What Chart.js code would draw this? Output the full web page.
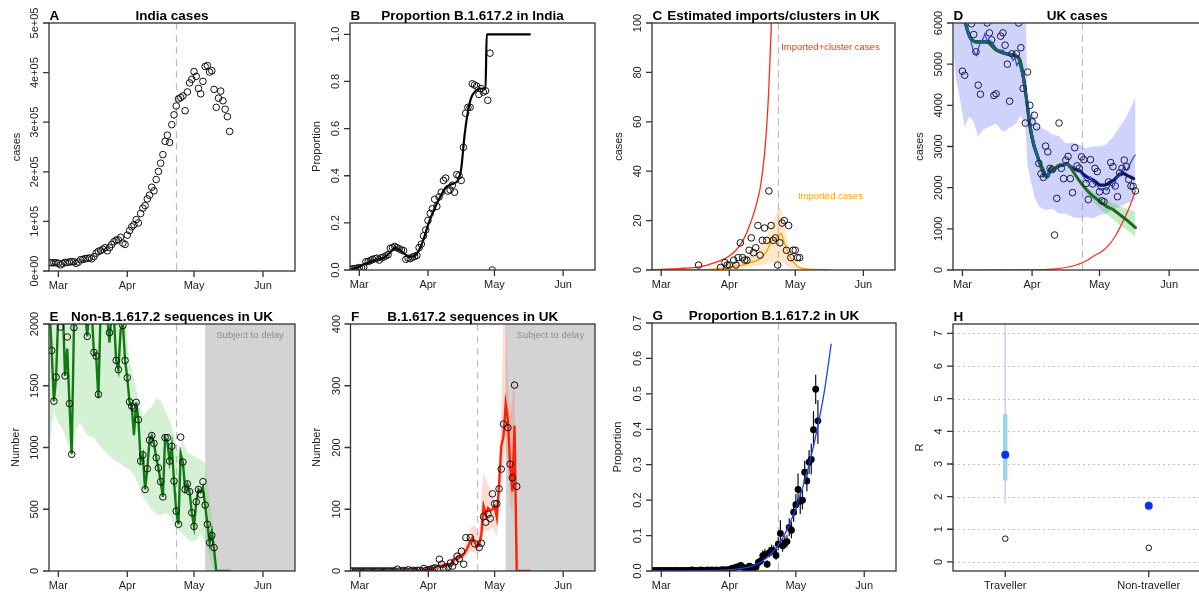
<!DOCTYPE html>
<html>
<head>
<meta charset="utf-8">
<title>B.1.617.2 panels</title>
<script src="https://cdn.jsdelivr.net/npm/chart.js@4.4.1/dist/chart.umd.min.js"></script>
<style>
  html, body { margin: 0; padding: 0; background: #fff; }
  body { width: 1199px; height: 596px; overflow: hidden; position: relative; }
  canvas { position: absolute; }
</style>
</head>
<body>
<canvas id="chartA" width="300" height="298" style="left:0;top:0"></canvas>
<canvas id="chartB" width="300" height="298" style="left:300px;top:0"></canvas>
<canvas id="chartC" width="300" height="298" style="left:600px;top:0"></canvas>
<canvas id="chartD" width="310" height="298" style="left:900px;top:0"></canvas>
<canvas id="chartE" width="300" height="298" style="left:0;top:298px"></canvas>
<canvas id="chartF" width="300" height="298" style="left:300px;top:298px"></canvas>
<canvas id="chartG" width="300" height="298" style="left:600px;top:298px"></canvas>
<canvas id="chartH" width="310" height="298" style="left:900px;top:298px"></canvas>
<script>
// x positions are days since 1 March 2021
const monthTicks = [0, 31, 61, 92];
const monthLabels = ['Mar', 'Apr', 'May', 'Jun'];
const redListDay = 53;   // 23 Apr
const delayStart = 66;   // 6 May
const dayRange = [-4.2, 106.4];

// A. India cases (daily, 25 Feb - 17 May)
const indiaCases = [16738, 16577, 16488, 16752,
  15510, 12286, 14989, 17407, 16838, 18327, 18711, 18599, 15388, 17921,
  22854, 23285, 24882, 25320, 26291, 24492, 28903, 35871, 39726, 40953,
  43846, 46951, 40715, 47262, 53476, 59118, 62258, 62714, 68020, 56211, 53480,
  72330, 81466, 89129, 93249, 103558, 96982, 115736, 126789, 131968, 145384,
  152879, 168912, 161736, 184372, 200739, 217353, 234692, 261500, 273810, 259170,
  295041, 314835, 332730, 346786, 349691, 352991, 323144, 360960, 379257, 386452,
  401993, 392488, 368147, 357229, 382315, 412262, 414188, 401078, 403738, 366161,
  329942, 348421, 362727, 343144, 326098, 311170, 281386];
const indiaDays = indiaCases.map((_, i) => i - 4);
const ticksA = [0, 100000, 200000, 300000, 400000, 500000];
const labelsA = ['0e+00', '1e+05', '2e+05', '3e+05', '4e+05', '5e+05'];

// B. Proportion B.1.617.2 in India (daily from 25 Feb)
const propIndia = [0.003, 0.005, 0.006, 0.008, 0.01, 0.009, 0.012, 0.035, 0.036, 0.04,
  0.045, 0.048, 0.05, 0.042, 0.052, 0.055, 0.06, 0.065, 0.092, 0.095,
  0.1, 0.095, 0.09, 0.085, 0.082, 0.045, 0.05, 0.048, 0.055, 0.057,
  0.062, 0.095, 0.11, 0.145, 0.17, 0.21, 0.24, 0.26, 0.3, 0.27,
  0.31, 0.33, 0.38, 0.39, 0.335, 0.34, 0.36, 0.33, 0.405, 0.4,
  0.38, 0.52, 0.665, 0.69, 0.69, 0.79, 0.785, 0.78, 0.745, 0.77,
  0.755, 0.76, 0.72, 0.92, 0.0];
const propIndiaDays = propIndia.map((_, i) => i - 4);
const fitIndiaDays = [-4, -1, 3, 7, 11, 14, 16, 18, 20, 22.5, 25, 27, 29, 31, 33, 36, 39, 42, 44.5, 46, 47.5, 49, 50.5, 52.5, 55, 57, 57.5, 77];
const fitIndia = [0.002, 0.01, 0.028, 0.042, 0.052, 0.075, 0.094, 0.087, 0.072, 0.056, 0.06, 0.085, 0.13, 0.19, 0.24, 0.3, 0.35, 0.365, 0.38, 0.43, 0.57, 0.67, 0.73, 0.76, 0.77, 0.77, 1.0, 1.0];
const ticksB = [0, 0.2, 0.4, 0.6, 0.8, 1.0];
const labelsB = ['0.0', '0.2', '0.4', '0.6', '0.8', '1.0'];

// C. Estimated imports / clusters in UK
const importDays = [17, 27, 29, 30, 31, 33, 34, 35, 36, 37, 38, 39, 40, 41, 42, 43, 44, 45, 46, 47, 48, 49, 50, 51, 52, 53, 54, 55, 56, 57, 58, 59, 60, 61, 62, 63];
const importCounts = [2, 1, 3, 2, 2, 4, 2, 5, 11, 5, 4, 4, 8, 13, 7, 9, 18, 6, 12, 17, 12, 32, 18, 12, 13, 2, 11, 19, 20, 8, 18, 5, 8, 8, 5, 5];
const clusterDays = [-4, 0, 5, 10, 15, 18, 20, 22, 24, 26, 28, 30, 32, 34, 36, 38, 40, 42, 44, 45, 46, 47, 48, 49, 50, 51];
const clusterCases = [0.1, 0.2, 0.4, 0.7, 1.0, 1.4, 1.8, 2.3, 2.9, 3.5, 4.2, 5.1, 6.4, 8.0, 10.3, 13.3, 17.5, 22.5, 29, 33, 39, 47, 58, 74, 97, 128];
const impDays = [-4, 20, 28, 32, 37, 41, 44, 46, 48, 49, 50, 51.5, 53, 54.5, 55.5, 56.5, 57.5, 58.5, 59.5, 61, 62.5, 65, 71, 77];
const impMid = [0, 0.1, 0.6, 1.3, 2.0, 3.1, 4.0, 5.4, 7.6, 9.5, 11.5, 12.4, 13.5, 14.8, 12.5, 9.8, 7.4, 5.5, 4.0, 2.3, 1.3, 0.5, 0.2, 0.05];
const impHigh = [0, 0.3, 1.5, 2.7, 4.0, 6.7, 8.8, 11, 14, 16, 18, 21, 24.5, 25.2, 21, 16, 11.5, 7.5, 5.4, 2.7, 1.2, 0.5, 0.2, 0.1];
const impLow = [0, 0, 0.2, 0.5, 0.8, 1.3, 1.7, 2.1, 2.5, 2.7, 2.9, 3.1, 3.4, 3.6, 2.9, 2.2, 1.5, 1.0, 0.7, 0.4, 0.2, 0.1, 0, 0];
const ticksC = [0, 20, 40, 60, 80, 100];

// D. UK cases
const ukDays = [0, 1, 4, 5, 6, 7, 8, 11, 12, 13, 14, 15, 17, 18, 19, 20, 21, 22,
  24, 25, 26, 27, 28, 29, 30, 31, 32, 33, 34, 35, 36, 37, 38, 39, 40, 41, 42, 43,
  44, 45, 46, 47, 48, 49, 50, 51, 52, 53, 54, 55, 56, 57, 58, 59, 60, 61, 62, 63,
  64, 65, 66, 67, 68, 69, 70, 71, 72, 73, 74, 75, 76, 77];
const ukCases = [4830, 4730, 5980, 5720, 5300, 4490, 4270, 6000, 5760, 5590, 4240, 4280, 5680, 5760, 5460, 5000, 4100, 5250,
  5250, 6000, 5400, 4410, 3570, 4810, 4000, 3600, 3760, 3480, 2590, 2340, 2250, 3010, 2870, 2470, 2440, 850, 1740, 3570,
  2470, 2220, 2670, 2760, 2220, 1880, 2970, 2530, 2470, 2750, 2680, 2100, 1710, 2680, 2090, 2470, 2390, 1900, 1680, 1660,
  1920, 2140, 2610, 2510, 2040, 1780, 2360, 2470, 2670, 2510, 2200, 2040, 2030, 1920];
const blueDays = [1, 2, 3.3, 4.8, 6.3, 7.7, 9.2, 10, 11, 12.2, 13.7, 15.2, 16.7, 18.2, 19.7, 21.1, 22.6, 23.4, 24.1, 24.9,
  26.4, 27.8, 29.3, 30.8, 32.3, 33, 34.5, 36, 37.5, 38.3, 39, 40.5, 42, 43.5, 45, 46.4, 47.9, 49.4, 50.9, 52.4,
  53.9, 55.4, 56.9, 58.4, 59.8, 61.3, 62.8, 64.3, 65.8, 67.3, 68.8, 70.3, 71.8, 73.2, 74.7, 76.2, 77];
const blueFit = [6100, 5900, 5660, 5330, 5210, 5500, 5620, 5740, 5560, 5580, 5500, 5380, 5340, 5340, 5210, 5250, 5090, 5170, 4970, 5050,
  4770, 4450, 3970, 3400, 3000, 2750, 2500, 2260, 2340, 2260, 2420, 2380, 2460, 2500, 2550, 2590, 2550, 2500, 2460, 2380,
  2260, 2140, 2260, 2100, 2060, 1940, 1980, 1940, 2060, 2020, 2260, 2340, 2500, 2420, 2590, 2750, 2790];
const greenDays = [1, 3.3, 6.3, 10.7, 15.2, 19.7, 23.4, 25.6, 27.1, 28.6, 30.1, 31.6, 33, 34.5, 36, 37.5, 38.3, 39, 40.5, 42,
  43.5, 45, 46.4, 47.9, 49.4, 52.4, 55.4, 58.4, 61.3, 64.3, 67.3, 70.3, 73.2, 77];
const greenFit = [6050, 5660, 5540, 5540, 5340, 5250, 5210, 5090, 4690, 4120, 3480, 3070, 2830, 2590, 2420, 2260, 2300, 2470, 2420, 2500,
  2550, 2550, 2590, 2510, 2380, 2140, 1940, 1780, 1660, 1540, 1460, 1330, 1210, 1030];
const navyDays = [1, 3.3, 6.3, 10.7, 15.2, 19.7, 23.4, 25.6, 27.1, 28.6, 30.1, 31.6, 33, 34.5, 36, 37.5, 38.3, 39, 40.5, 42,
  43.5, 45, 46.4, 47.9, 49.4, 50.9, 52.4, 53.9, 55.4, 56.9, 58.4, 59.8, 61.3, 62.8, 64.3, 65.8, 67.3, 68.8, 70.3, 71.8,
  73.2, 74.7, 76.2];
const navyFit = [6050, 5660, 5540, 5540, 5340, 5250, 5210, 5090, 4690, 4120, 3480, 3070, 2830, 2590, 2420, 2260, 2300, 2470, 2420, 2500,
  2550, 2550, 2590, 2510, 2470, 2430, 2400, 2320, 2260, 2220, 2180, 2120, 2060, 2060, 2080, 2140, 2180, 2260, 2340, 2340,
  2300, 2260, 2220];
const ukBandDays = [-4, -3, -1, 1, 3, 5, 7, 9, 12, 15, 18, 21, 24, 26, 28, 29, 31, 32, 34, 37,
  40, 43, 46, 49, 52, 55, 58, 61, 64, 67, 70, 73, 75, 77];
const ukBandHigh = [7000, 7000, 7000, 7000, 7000, 7000, 7000, 7000, 7000, 7000, 7000, 7000, 7000, 7000, 7000, 3600, 3880, 3720, 3480, 3400,
  3300, 3250, 3070, 3100, 3050, 2950, 3000, 3000, 3050, 3230, 3480, 3720, 3950, 4200];
const ukBandLow = [5340, 4690, 4120, 3480, 3720, 3600, 3230, 3400, 3480, 3550, 3350, 3450, 3560, 3760, 3480, 2510, 2020, 1780, 1540, 1455,
  1490, 1375, 1375, 1290, 1250, 1290, 1250, 1330, 1375, 1455, 1540, 1620, 1660, 1700];
const nonTravDays = [52, 55, 58, 61, 64, 67, 70, 73, 77];
const nonTravHigh = [2180, 2030, 1900, 1800, 1700, 1620, 1550, 1490, 1420];
const nonTravLow = [2100, 1850, 1660, 1500, 1360, 1230, 1100, 980, 810];
const importedDays = [-4, 30, 40, 46, 50, 53, 56, 59, 62, 65, 68, 71, 74, 77];
const importedUK = [0, 5, 20, 60, 110, 170, 250, 360, 450, 600, 820, 1130, 1480, 1920];
const ticksD = [0, 1000, 2000, 3000, 4000, 5000, 6000];

// E. Non-B.1.617.2 sequences in UK
const eDays = [-3, -2, -1, 1, 3, 4, 5, 6, 7, 13, 16, 17, 18, 23, 26, 27, 29, 30, 31, 32, 33, 34, 35, 36, 37, 38, 39, 40,
  41, 42, 43, 44, 45, 46, 47, 48, 49, 50, 51, 52, 53, 54, 55, 56, 57, 58, 59, 60, 61, 62, 63, 64, 65, 66, 67, 68, 69, 70];
const eSeqs = [1785, 1375, 1570, 1975, 1580, 1895, 1355, 945, 1970, 1900, 1770, 1740, 1430, 1930, 1705, 1630, 1987, 1705, 1565, 1370, 1335, 1320, 1365, 1225, 890, 940, 660, 828,
  1060, 1097, 1033, 917, 835, 723, 600, 1080, 1080, 890, 1010, 728, 485, 378, 1084, 882, 660, 706, 642, 472, 361, 560, 660, 620, 723, 534, 378, 229, 288, 189];
const eFit = [2150, 1785, 1375, 1570, 2100, 2050, 2150, 1580, 1800, 1355, 945, 1970, 2200, 2300, 2250, 2150, 2100, 1900, 2150, 2100,
  1770, 1740, 1400, 2100, 2250, 2150, 2050, 1850, 2100, 2050, 1705, 1630, 1950, 2010, 1705, 1565, 1370, 1335, 1100, 1365,
  1225, 890, 940, 660, 828, 1060, 1097, 1033, 917, 835, 723, 600, 1080, 1050, 890, 1010, 728, 485, 378, 950,
  880, 660, 706, 642, 472, 361, 560, 660, 640, 680, 530, 380, 230, 320, 180, 0, 0, 0, 0, 0, 0, 0];
const eFitDays = eFit.map((_, i) => i - 4);
const eBandDays = [-4, -2, 0, 2, 4, 6, 8, 10, 13, 16, 19, 22, 25, 28, 30, 32, 34, 36, 38, 40, 42, 44, 46, 48, 50, 52, 54, 56, 58, 60, 62, 64, 66, 68, 70, 71];
const eBandHigh = [2300, 2300, 2300, 2300, 2300, 2300, 2300, 2300, 2300, 2300, 2300, 2300, 2300, 2300, 2050, 1700, 1550, 1400, 1250, 1300,
  1330, 1400, 1380, 1300, 1220, 1100, 950, 1060, 960, 940, 920, 900, 870, 600, 300, 0];
const eBandLow = [1000, 1300, 1200, 1150, 1050, 900, 1150, 1200, 1100, 1080, 1000, 950, 900, 870, 840, 820, 780, 700, 600, 550,
  500, 460, 450, 470, 450, 380, 330, 300, 260, 240, 250, 300, 250, 100, 0, 0];
const ticksE = [0, 500, 1000, 1500, 2000];

// F. B.1.617.2 sequences in UK
const fDays = [-4, -3, -2, -1, 0, 1, 2, 3, 4, 5, 6, 7, 8, 9, 10, 11, 12, 13, 14, 15, 16,
  17, 18, 19, 20, 21, 22, 23, 24, 25, 26, 27, 28, 29, 30, 31, 32, 33, 34, 35, 36,
  37, 38, 39, 40, 41, 42, 43, 44, 45, 46, 47, 48,
  50, 52, 54, 55, 56, 57, 58, 59, 60, 61, 62, 63, 64, 65, 67, 68, 69, 70, 71];
const fSeqs = [0, 0, 0, 0, 0, 0, 0, 0, 0, 0, 0, 0, 0, 0, 0, 0, 0, 0, 0, 0, 0,
  3, 0, 0, 1, 0, 2, 0, 1, 0, 1, 1, 0, 4, 1, 2, 2, 4, 5, 3, 19,
  11, 4, 4, 6, 13, 8, 15, 24, 20, 32, 11, 54,
  54, 44, 38, 45, 88, 79, 92, 85, 125, 109, 109, 133, 165, 238, 232, 173, 151, 301, 137];
const fFitDays = [-4, 28, 29, 30, 31, 32, 33, 34, 35, 36, 37, 38, 39, 40, 41, 42, 43, 44, 45, 46, 47, 48, 49,
  50, 51, 52, 53, 54, 55, 56, 57, 58, 59, 60, 61, 62, 63, 64, 65, 66, 67, 68, 69, 70, 71, 77];
const fFit = [0, 0.5, 1, 2, 2, 3, 4, 6, 8, 9, 8, 10, 11, 11, 11, 15, 19, 22, 23, 23, 27, 32, 40,
  48, 54, 46, 39, 42, 60, 105, 92, 102, 98, 100, 105, 87, 140, 202, 218, 271, 245, 172, 129, 235, 0, 0];
const fBandDays = [36, 40, 44, 46, 48, 50, 52, 54, 55, 56, 58, 60, 62, 63, 64, 65, 66, 67, 68, 69, 70, 71];
const fBandHigh = [12, 16, 32, 35, 45, 70, 75, 60, 120, 160, 140, 125, 100, 170, 260, 420, 420, 300, 250, 280, 330, 0];
const fBandLow = [4, 6, 14, 14, 22, 32, 30, 28, 45, 65, 65, 70, 55, 100, 140, 170, 200, 170, 110, 90, 150, 0];
const ticksF = [0, 100, 200, 300, 400];

// G. Proportion B.1.617.2 in UK (daily from 25 Feb)
const propUK = [0.002, 0.001, 0.002, 0.002, 0.001, 0.002, 0.001, 0.002, 0.002, 0.001,
  0.002, 0.002, 0.001, 0.002, 0.002, 0.001, 0.002, 0.002, 0.003, 0.002,
  0.001, 0.002, 0.003, 0.002, 0.002, 0.003, 0.002, 0.003, 0.002, 0.003,
  0.002, 0.003, 0.004,
  0.003, 0.004, 0.004, 0.007, 0.009, 0.011, 0.012, 0.016, 0.011, 0.007,
  0.009, 0.014, 0.009, 0.01, 0.011, 0.024, 0.028, 0.043, 0.047, 0.019,
  0.052, 0.059, 0.057, 0.044, 0.076, 0.106, 0.071, 0.08, 0.083, 0.123,
  0.115, 0.166, 0.187, 0.23, 0.197, 0.2, 0.279, 0.254, 0.307, 0.315,
  0.399, 0.513, 0.424];
const propUKDays = propUK.map((_, i) => i - 4);
const ciLowUK = [0.001, 0.001, 0.001, 0.003, 0.004, 0.005, 0.006, 0.009, 0.005, 0.003,
  0.004, 0.008, 0.004, 0.005, 0.006, 0.015, 0.018, 0.031, 0.035, 0.011,
  0.04, 0.046, 0.044, 0.033, 0.06, 0.075, 0.056, 0.065, 0.068, 0.1,
  0.094, 0.14, 0.16, 0.186, 0.162, 0.175, 0.248, 0.226, 0.275, 0.274,
  0.35, 0.473, 0.36];
const ciHighUK = [0.006, 0.008, 0.008, 0.012, 0.015, 0.018, 0.02, 0.024, 0.018, 0.013,
  0.015, 0.021, 0.015, 0.016, 0.017, 0.034, 0.04, 0.057, 0.061, 0.029,
  0.066, 0.073, 0.071, 0.057, 0.094, 0.142, 0.088, 0.097, 0.1, 0.148,
  0.138, 0.193, 0.216, 0.274, 0.232, 0.228, 0.31, 0.284, 0.34, 0.358,
  0.45, 0.553, 0.482];
const ciDaysUK = ciLowUK.map((_, i) => i + 29);
const logitDays = [-4, 10, 20, 26, 30, 34, 38, 41, 44, 47, 50, 53, 56, 59, 62, 65, 68, 71, 74, 77];
const logitFit = [0.0001, 0.0003, 0.0008, 0.0015, 0.003, 0.0055, 0.009, 0.014, 0.021, 0.033, 0.05, 0.073, 0.104, 0.145, 0.195, 0.255, 0.325, 0.41, 0.51, 0.64];
const ticksG = [0, 0.1, 0.2, 0.3, 0.4, 0.5, 0.6, 0.7];
const labelsG = ['0.0', '0.1', '0.2', '0.3', '0.4', '0.5', '0.6', '0.7'];

// H. R by group
const groups = ['Traveller', 'Non-traveller'];
const groupPos = [1, 2];
const rMean = [3.28, 1.72];
const rNaive = [0.71, 0.43];
const r95Low = [1.82, 1.6];
const r95High = [7.6, 1.86];
const r50Low = [2.55, 1.67];
const r50High = [4.48, 1.77];
const ticksH = [0, 1, 2, 3, 4, 5, 6, 7];

const FONT = "'Liberation Sans', Arial, sans-serif";

function pts(xs, ys) { return xs.map((x, i) => ({x: x, y: ys[i]})); }
function segs(xs, lo, hi) {
    const out = [];
    xs.forEach((x, i) => { out.push({x: x, y: lo[i]}, {x: x, y: hi[i]}, {x: x, y: null}); });
    return out;
}
function circles(data, color, radius) {
    return { data, showLine: false, pointRadius: radius || 3.3, pointBorderWidth: 1,
        pointBorderColor: color || '#111', pointBackgroundColor: 'rgba(0,0,0,0)' };
}
function dots(data, color, radius) {
    return { data, showLine: false, pointRadius: radius, pointBorderWidth: 0,
        pointBackgroundColor: color, pointBorderColor: color };
}
function curve(data, color, width, smooth) {
    return { data, borderColor: color, borderWidth: width, pointRadius: 0, fill: false,
        tension: 0, cubicInterpolationMode: smooth ? 'monotone' : 'default', borderCapStyle: 'round' };
}
function bandTop(data, color) {
    return { data, borderColor: 'rgba(0,0,0,0)', borderWidth: 1, pointRadius: 0, backgroundColor: color, fill: '+1' };
}
function bandBottom(data) {
    return { data, borderColor: 'rgba(0,0,0,0)', borderWidth: 1, pointRadius: 0, fill: false };
}

function rotText(ctx, t, x, y) {
    ctx.save(); ctx.translate(x, y); ctx.rotate(-Math.PI / 2); ctx.fillText(t, 0, 0); ctx.restore();
}

// R-style frame: box, outward ticks, rotated y labels, bold title
function rPanel(o) {
    return {
        id: 'rPanel',
        beforeDatasetsDraw(chart) {
            const ctx = chart.ctx, a = chart.chartArea, xs = chart.scales.x, ys = chart.scales.y;
            ctx.save();
            if (o.delayFrom !== undefined) {
                const px = xs.getPixelForValue(o.delayFrom);
                ctx.fillStyle = '#d3d3d3';
                ctx.fillRect(px, a.top, a.right - px, a.bottom - a.top);
                ctx.fillStyle = '#8c8c8c';
                ctx.font = '9.5px ' + FONT;
                ctx.textAlign = 'center'; ctx.textBaseline = 'middle';
                ctx.fillText('Subject to delay', (px + a.right) / 2, a.top + 11.5);
            }
            if (o.gridY) {
                ctx.strokeStyle = '#c4c4c4'; ctx.lineWidth = 1; ctx.setLineDash([2, 3]);
                o.yTicks.forEach(v => {
                    const py = Math.round(ys.getPixelForValue(v)) + 0.5;
                    ctx.beginPath(); ctx.moveTo(a.left, py); ctx.lineTo(a.right, py); ctx.stroke();
                });
            }
            if (o.vline !== undefined) {
                const px = Math.round(xs.getPixelForValue(o.vline)) + 0.5;
                ctx.strokeStyle = '#bdbdbd'; ctx.lineWidth = 1.2; ctx.setLineDash([7, 5]);
                ctx.beginPath(); ctx.moveTo(px, a.top); ctx.lineTo(px, a.bottom); ctx.stroke();
            }
            ctx.restore();
        },
        afterDraw(chart) {
            const ctx = chart.ctx, a = chart.chartArea, xs = chart.scales.x, ys = chart.scales.y;
            ctx.save();
            ctx.strokeStyle = '#333'; ctx.lineWidth = 1.3;
            ctx.strokeRect(a.left, a.top, a.right - a.left, a.bottom - a.top);
            ctx.fillStyle = '#222';
            ctx.font = '11px ' + FONT;
            ctx.textAlign = 'center'; ctx.textBaseline = 'middle';
            ctx.beginPath();
            o.xTicks.forEach((v, i) => {
                const px = xs.getPixelForValue(v);
                ctx.moveTo(px, a.bottom); ctx.lineTo(px, a.bottom + 6);
                ctx.fillText(o.xLabels[i], px, a.bottom + 14.5);
            });
            o.yTicks.forEach((v, i) => {
                const py = ys.getPixelForValue(v);
                ctx.moveTo(a.left - 6, py); ctx.lineTo(a.left, py);
                rotText(ctx, o.yLabels ? o.yLabels[i] : String(v), a.left - 14, py);
            });
            ctx.stroke();
            rotText(ctx, o.yTitle, o.yTitleX, (a.top + a.bottom) / 2);
            (o.notes || []).forEach(n => {
                ctx.font = '9.5px ' + FONT;
                ctx.fillStyle = n.color;
                ctx.fillText(n.text, xs.getPixelForValue(n.x), ys.getPixelForValue(n.y));
            });
            ctx.fillStyle = '#000';
            ctx.font = 'bold 13.5px ' + FONT;
            ctx.textAlign = 'left';
            ctx.fillText(o.letter, a.left + 0.5, a.top - o.titleGap);
            if (o.title) {
                ctx.textAlign = 'center';
                ctx.fillText(o.title, (a.left + a.right) / 2, a.top - o.titleGap);
            }
            ctx.restore();
        }
    };
}

function makeChart(id, pad, yRange, datasets, frame, xRange) {
    const xr = xRange || dayRange;
    return new Chart(document.getElementById(id), {
        type: 'line',
        data: { datasets: datasets },
        options: {
            responsive: false, animation: false, devicePixelRatio: 1, events: [],
            layout: { padding: pad },
            plugins: { legend: { display: false }, tooltip: { enabled: false } },
            scales: {
                x: { type: 'linear', display: false, min: xr[0], max: xr[1] },
                y: { type: 'linear', display: false, min: yRange[0], max: yRange[1], stacked: false }
            }
        },
        plugins: [rPanel(frame)]
    });
}

const monthAxis = { xTicks: monthTicks, xLabels: monthLabels };

// A
makeChart('chartA', {left: 49, right: 2, top: 23, bottom: 27}, [0, 500000],
    [circles(pts(indiaDays, indiaCases))],
    Object.assign({letter: 'A', title: 'India cases', yTitle: 'cases', yTitleX: 16.5, titleGap: 7,
        yTicks: ticksA, yLabels: labelsA, vline: redListDay}, monthAxis));

// B
makeChart('chartB', {left: 50, right: 2, top: 23, bottom: 28}, [0, 1.048],
    [circles(pts(propIndiaDays, propIndia)),
     curve(pts(fitIndiaDays, fitIndia), '#000', 2.2, true)],
    Object.assign({letter: 'B', title: 'Proportion B.1.617.2 in India', yTitle: 'Proportion', yTitleX: 16.5, titleGap: 7,
        yTicks: ticksB, yLabels: labelsB}, monthAxis));

// C
makeChart('chartC', {left: 52, right: 2, top: 23, bottom: 28}, [0, 100],
    [circles(pts(importDays, importCounts)),
     curve(pts(clusterDays, clusterCases), '#ff2a1a', 1.3, true),
     curve(pts(impDays, impMid), '#ffa500', 1.4, true),
     bandTop(pts(impDays, impHigh), 'rgba(255,170,60,0.28)'),
     bandBottom(pts(impDays, impLow))],
    Object.assign({letter: 'C', title: 'Estimated imports/clusters in UK', yTitle: 'cases', yTitleX: 19, titleGap: 7,
        yTicks: ticksC, vline: redListDay,
        notes: [{text: 'Imported+cluster cases', color: '#ff3322', x: 77, y: 90},
                {text: 'Imported cases', color: '#ffa500', x: 77, y: 30}]}, monthAxis));

// D
makeChart('chartD', {left: 53, right: 8.5, top: 23, bottom: 28}, [0, 6000],
    [circles(pts(ukDays, ukCases), '#1c1c40'),
     curve(pts(blueDays, blueFit), '#1f4fff', 1.2, false),
     curve(pts(greenDays, greenFit), '#1b6b26', 3, true),
     curve(pts(navyDays, navyFit), '#0b1466', 3.2, true),
     curve(pts(importedDays, importedUK), '#ff2a1a', 1.2, true),
     bandTop(pts(nonTravDays, nonTravHigh), 'rgba(90,200,90,0.35)'),
     bandBottom(pts(nonTravDays, nonTravLow)),
     bandTop(pts(ukBandDays, ukBandHigh), 'rgba(100,110,240,0.31)'),
     bandBottom(pts(ukBandDays, ukBandLow))],
    Object.assign({letter: 'D', title: 'UK cases', yTitle: 'cases', yTitleX: 20, titleGap: 7,
        yTicks: ticksD, vline: redListDay}, monthAxis));

// E
makeChart('chartE', {left: 49, right: 3, top: 26, bottom: 25}, [0, 2000],
    [circles(pts(eDays, eSeqs)),
     curve(pts(eFitDays, eFit), '#127a12', 2.4, false),
     bandTop(pts(eBandDays, eBandHigh), 'rgba(120,210,120,0.32)'),
     bandBottom(pts(eBandDays, eBandLow))],
    Object.assign({letter: 'E', title: 'Non-B.1.617.2 sequences in UK', yTitle: 'Number', yTitleX: 16, titleGap: 6.5,
        yTicks: ticksE, vline: redListDay, delayFrom: delayStart}, monthAxis));

// F
makeChart('chartF', {left: 50.5, right: 2, top: 26, bottom: 25}, [0, 400],
    [circles(pts(fDays, fSeqs)),
     curve(pts(fFitDays, fFit), '#ff2200', 2.4, false),
     bandTop(pts(fBandDays, fBandHigh), 'rgba(255,90,70,0.22)'),
     bandBottom(pts(fBandDays, fBandLow))],
    Object.assign({letter: 'F', title: 'B.1.617.2 sequences in UK', yTitle: 'Number', yTitleX: 17, titleGap: 6.5,
        yTicks: ticksF, vline: redListDay, delayFrom: delayStart}, monthAxis));

// G
makeChart('chartG', {left: 52, right: 2, top: 25, bottom: 25}, [0, 0.7],
    [curve(pts(logitDays, logitFit), '#1f3fff', 1.3, true),
     dots(pts(propUKDays, propUK), '#000', 3.4),
     curve(segs(ciDaysUK, ciLowUK, ciHighUK), '#111', 1.2, false)],
    Object.assign({letter: 'G', title: 'Proportion B.1.617.2 in UK', yTitle: 'Proportion', yTitleX: 18, titleGap: 6.5,
        yTicks: ticksG, yLabels: labelsG, vline: redListDay}, monthAxis));

// H
makeChart('chartH', {left: 53, right: 9, top: 26, bottom: 25}, [-0.28, 7.29],
    [dots(pts(groupPos, rMean), '#0a32ff', 4),
     circles(pts(groupPos, rNaive), '#111', 2.8),
     curve(segs(groupPos, r50Low, r50High), '#9fd4e6', 4.5, false),
     curve(segs(groupPos, r95Low, r95High), '#cdd2f7', 1.6, false)],
    {letter: 'H', title: '', yTitle: 'R', yTitleX: 20, titleGap: 6.5, gridY: true,
     xTicks: groupPos, xLabels: groups, yTicks: ticksH},
    [0.636, 2.364]);
</script>
</body>
</html>
